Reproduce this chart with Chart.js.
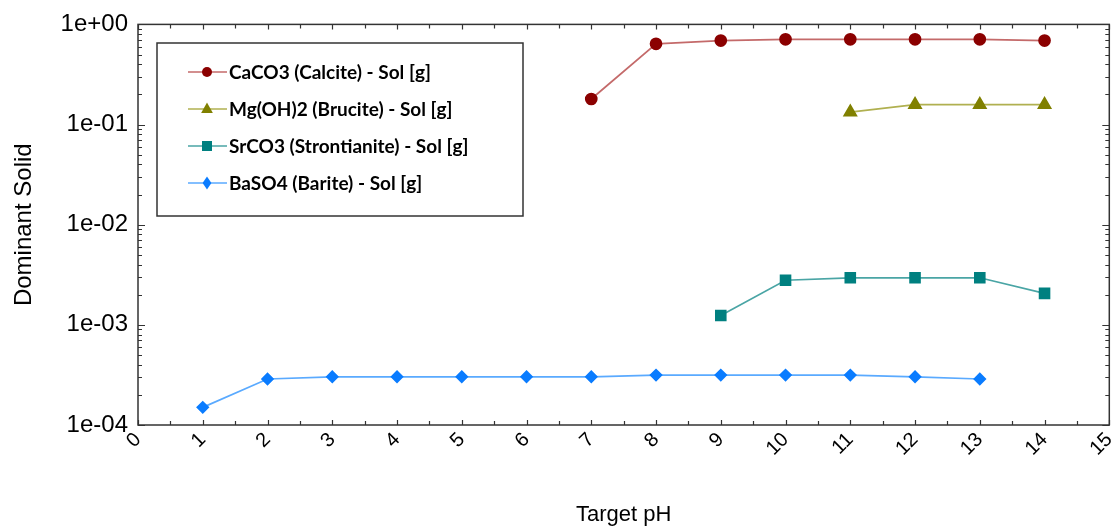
<!DOCTYPE html>
<html>
<head>
<meta charset="utf-8">
<script src="https://cdn.jsdelivr.net/npm/chart.js@4/dist/chart.umd.min.js"></script>
<style>
  body { margin: 0; background: #fff; }
  #wrap { width: 1118px; height: 526px; position: relative; }
</style>
</head>
<body>
<div id="wrap"><canvas id="solidChart"></canvas></div>
<script>
// x values (Target pH) and dominant solid amounts per mineral
var phCalcite = [7, 8, 9, 10, 11, 12, 13, 14];
var calcite = [0.18, 0.64, 0.69, 0.71, 0.71, 0.71, 0.71, 0.69];

var phBrucite = [11, 12, 13, 14];
var brucite = [0.133, 0.158, 0.158, 0.158];

var phStrontianite = [9, 10, 11, 12, 13, 14];
var strontianite = [0.00124, 0.00279, 0.00295, 0.00295, 0.00295, 0.00206];

var phBarite = [1, 2, 3, 4, 5, 6, 7, 8, 9, 10, 11, 12, 13];
var barite = [0.000150, 0.000288, 0.000303, 0.000303, 0.000303, 0.000303, 0.000303,
              0.000315, 0.000315, 0.000315, 0.000315, 0.000303, 0.000288];

var seriesNames = [
  'CaCO3 (Calcite) - Sol [g]',
  'Mg(OH)2 (Brucite) - Sol [g]',
  'SrCO3 (Strontianite) - Sol [g]',
  'BaSO4 (Barite) - Sol [g]'
];

function toPoints(xs, ys) {
  let pts = [];
  for (let i = 0; i < xs.length; i++) {
    pts.push({x: xs[i], y: ys[i]});
  }
  return pts;
}

function fmtDecade(v) {
  let e = Math.round(Math.log10(v));
  let s = Math.abs(e) < 10 ? '0' + Math.abs(e) : '' + Math.abs(e);
  return '1e' + (e < 0 ? '-' : '+') + s;
}

function isDecade(v) {
  let l = Math.log10(v);
  return Math.abs(l - Math.round(l)) < 1e-6;
}

// frame with inward ticks on all four sides
const framePlugin = {
  id: 'frame',
  afterDraw(chart) {
    const c = chart.ctx;
    const a = chart.chartArea;
    const xs = chart.scales.x;
    const ys = chart.scales.y;
    c.save();
    c.strokeStyle = '#333';
    c.lineWidth = 1.5;
    c.strokeRect(a.left, a.top, a.right - a.left, a.bottom - a.top);
    c.lineWidth = 1.2;
    c.beginPath();
    for (let v = 0; v <= 15; v += 0.5) {
      let px = Math.round(xs.getPixelForValue(v)) + 0.5;
      let len = (v % 1 === 0) ? 5 : 4;
      c.moveTo(px, a.bottom); c.lineTo(px, a.bottom - len);
      c.moveTo(px, a.top); c.lineTo(px, a.top + len);
    }
    for (let e = -4; e <= 0; e++) {
      for (let m = 1; m <= 9; m++) {
        let v = m * Math.pow(10, e);
        if (v > 1.0000001) break;
        let py = Math.round(ys.getPixelForValue(v)) + 0.5;
        let len = (m === 1) ? 7 : 4;
        c.moveTo(a.left, py); c.lineTo(a.left + len, py);
        c.moveTo(a.right, py); c.lineTo(a.right - len, py);
      }
    }
    c.stroke();
    c.restore();
  }
};

function drawMarker(c, style, x, y, r, color) {
  c.fillStyle = color;
  c.beginPath();
  if (style === 'circle') {
    c.arc(x, y, r, 0, Math.PI * 2);
  } else if (style === 'triangle') {
    c.moveTo(x, y - r);
    c.lineTo(x + r * 0.9, y + r * 0.6);
    c.lineTo(x - r * 0.9, y + r * 0.6);
    c.closePath();
  } else if (style === 'rect') {
    c.rect(x - r, y - r, 2 * r, 2 * r);
  } else {
    c.moveTo(x, y - r * 1.2);
    c.lineTo(x + r * 0.8, y);
    c.lineTo(x, y + r * 1.2);
    c.lineTo(x - r * 0.8, y);
    c.closePath();
  }
  c.fill();
}

// boxed legend inside the plot
const legendBox = {
  id: 'legendBox',
  afterDraw(chart) {
    const c = chart.ctx;
    const styles = ['circle', 'triangle', 'rect', 'diamond'];
    const sizes = [5, 6.5, 5, 5.5];
    c.save();
    c.fillStyle = '#fff';
    c.fillRect(157, 43, 366, 173);
    c.strokeStyle = '#333';
    c.lineWidth = 1.5;
    c.strokeRect(157, 43, 366, 173);
    chart.data.datasets.forEach(function(ds, i) {
      let y = 72 + i * 37;
      c.strokeStyle = ds.borderColor;
      c.lineWidth = 1.5;
      c.beginPath();
      c.moveTo(188, y); c.lineTo(227, y);
      c.stroke();
      drawMarker(c, styles[i], 207, y, sizes[i], ds.pointBackgroundColor);
      c.fillStyle = '#000';
      c.font = 'bold 19px Lato';
      c.textBaseline = 'middle';
      c.textAlign = 'left';
      c.fillText(ds.label, 229, y + 1);
    });
    c.restore();
  }
};

const ctx = document.getElementById('solidChart');

const chart = new Chart(ctx, {
  type: 'line',
  data: {
    datasets: [
      {
        label: seriesNames[0],
        data: toPoints(phCalcite, calcite),
        borderColor: '#c46a6a',
        backgroundColor: '#8b0000',
        pointBackgroundColor: '#8b0000',
        pointBorderColor: '#8b0000',
        pointStyle: 'circle',
        pointRadius: 5.5,
        borderWidth: 1.7
      },
      {
        label: seriesNames[1],
        data: toPoints(phBrucite, brucite),
        borderColor: '#b0b050',
        backgroundColor: '#808000',
        pointBackgroundColor: '#808000',
        pointBorderColor: '#808000',
        pointStyle: 'triangle',
        pointRadius: 7,
        borderWidth: 1.7
      },
      {
        label: seriesNames[2],
        data: toPoints(phStrontianite, strontianite),
        borderColor: '#4aa5a5',
        backgroundColor: '#008080',
        pointBackgroundColor: '#008080',
        pointBorderColor: '#008080',
        pointStyle: 'rect',
        pointRadius: 7,
        borderWidth: 1.7
      },
      {
        label: seriesNames[3],
        data: toPoints(phBarite, barite),
        borderColor: '#5aaaff',
        backgroundColor: '#0a7cff',
        pointBackgroundColor: '#0a7cff',
        pointBorderColor: '#0a7cff',
        pointStyle: 'rectRot',
        pointRadius: 5.5,
        borderWidth: 1.7
      }
    ]
  },
  options: {
    responsive: true,
    maintainAspectRatio: false,
    animation: false,
    layout: {
      padding: {top: 23, right: 8, bottom: 0, left: 0}
    },
    scales: {
      x: {
        type: 'linear',
        min: 0,
        max: 15,
        afterFit: function(scale) {
          scale.height = 101;
          scale.paddingRight = 0;
        },
        grid: {display: false, drawTicks: false},
        border: {display: false},
        ticks: {
          stepSize: 1,
          minRotation: 45,
          maxRotation: 45,
          padding: 3,
          color: '#000',
          font: {family: 'Liberation Sans', size: 20}
        },
        title: {
          display: true,
          text: 'Target pH',
          color: '#000',
          padding: {top: 0, bottom: 0},
          font: {family: 'Liberation Sans', size: 22, lineHeight: 1}
        }
      },
      y: {
        type: 'logarithmic',
        min: 0.0001,
        max: 1,
        afterFit: function(scale) { scale.width = 138; },
        grid: {display: false, drawTicks: false},
        border: {display: false},
        ticks: {
          padding: 10,
          color: '#000',
          autoSkip: false,
          font: {family: 'Liberation Sans', size: 24},
          callback: function(value) {
            return isDecade(value) ? fmtDecade(value) : '';
          }
        },
        title: {
          display: true,
          text: 'Dominant Solid',
          color: '#000',
          padding: {top: 12, bottom: 0},
          font: {family: 'Liberation Sans', size: 24, lineHeight: 1}
        }
      }
    },
    plugins: {
      legend: {display: false},
      tooltip: {enabled: false}
    }
  },
  plugins: [framePlugin, legendBox]
});
</script>
</body>
</html>
